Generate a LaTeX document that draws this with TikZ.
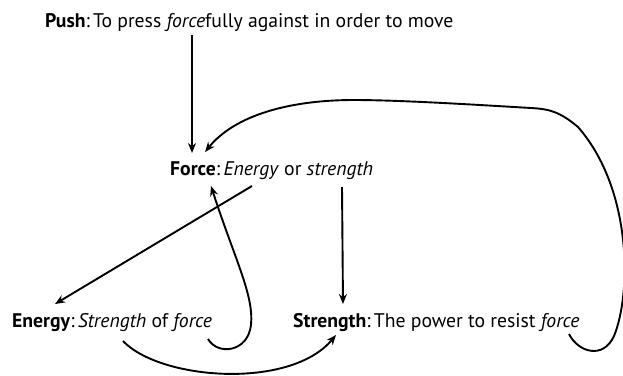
\documentclass[tikz,border=0pt]{standalone}
\usepackage{fontspec}
\setmainfont{PT Sans}
\usetikzlibrary{arrows.meta}

\begin{document}
\begin{tikzpicture}[x=1pt, y=-1pt,
    word/.style={anchor=base west, inner sep=0pt, font=\fontsize{19.7}{23}\selectfont},
    link/.style={line width=1.9pt, -{Stealth[length=10pt, width=8pt]}}]
    % Fixed Bounding Box for alignment
    \useasboundingbox (0,0) rectangle (623,375);

    % Definitions
    \node[word] (push) at (45,27) {\textbf{Push}:\,To press \textit{force}fully against in order to move};
    \node[word] (force) at (170,175) {\textbf{Force}:\,\textit{Energy} or \textit{strength}};
    \node[word] (energy) at (12,327) {\textbf{Energy}:\,\textit{Strength} of \textit{force}};
    \node[word] (strength) at (293,327) {\textbf{Strength}:\,The power to resist \textit{force}};

    % Straight links
    \draw[link] ([shift={(147,8)}]push.base west) -- ([shift={(22,-22)}]force.base west);
    \draw[link] ([shift={(82,11)}]force.base west) -- ([shift={(43,-23)}]energy.base west);
    \draw[link] ([shift={(172,12)}]force.base west) -- ([shift={(50,-23)}]strength.base west);

    % Curved links
    \draw[link] ([shift={(111,14)}]energy.base west)
        .. controls (160,380) and (290,390) .. ([shift={(43,8)}]strength.base west);
    \draw[link] ([shift={(196,12)}]energy.base west)
        .. controls (218,356) and (248,352) .. (251,325)
        .. controls (254,295) and (235,260) .. ([shift={(41,11)}]force.base west);
    \draw[link] ([shift={(276,7)}]strength.base west)
        .. controls (578,352) and (603,360) .. (614,336)
        .. controls (631,295) and (633,190) .. (578,127)
        .. controls (560,112) and (550,109) .. (531,108)
        .. controls (480,105) and (400,100) .. (354,100)
        .. controls (290,100) and (235,115) .. ([shift={(35,-23)}]force.base west);
\end{tikzpicture}
\end{document}
